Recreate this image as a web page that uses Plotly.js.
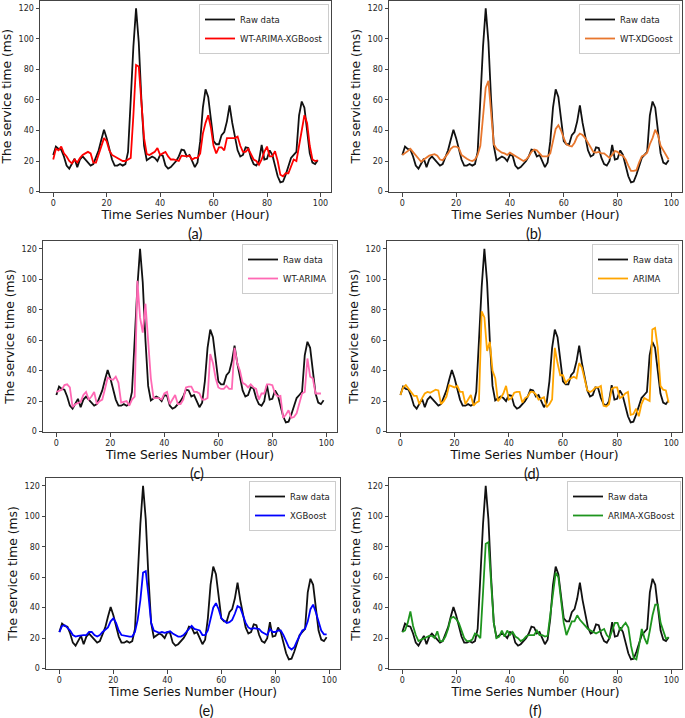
<!DOCTYPE html>
<html>
<head>
<meta charset="utf-8">
<script src="https://cdn.plot.ly/plotly-3.0.1.min.js"></script>
<style>html,body{margin:0;padding:0;background:#fff}#chart{width:685px;height:718px}</style>
</head>
<body>
<div id="chart"></div>
<script>
// Raw service time (ms), hours 0..99
const rawData = [24,29.5,28,27.5,23,17,15,18,21.5,16,
21,23,21,19,17,18,22,27,34,40.5,
35,27,21,17,17,18,17,18,26,60,
95,120,98,60,30,20.5,22,23,22,20,
24,23.5,17,15,16,18,20,23,27.5,27,
23,24,20,16,19,33,55,67,62,48,
33,31,31,37,39,46,56.5,45,35,27,
23,24,29,28.5,22,18,17,20,30.5,21,
21.5,27,24,17,10,6,6.5,11,17,22,
24,26,50,59,55,40,25,19,18,20.5];

const wtArimaXgb = [21,28,27,29.5,25,23,20,18.5,21,19,
22,24,25,26,25,19,19,24,29,35,
33,27,24,23,22,21,20,20,21,22,
50,83,82,60,35,24.5,24,25,26,28.5,
24,25,26,23,21,21,20.5,20,23.5,23,
23,23.5,21,22,22,25,38,45,50,42,
30,25,29,29,27,35,35,35,35,36,
30,26,26,28,24,21,20,17.5,21,26,
29.5,23,23,26.5,20,11,10,12,12,17,
21,20,30,40,50,45,30,21,20,20.5];

const wtXgb = [24,25,26.5,28,26,24,21.5,19.5,21,22.5,
23.5,24,24.5,23.5,21,20.5,22.5,25,28,29.5,
29.5,28.5,24,22.5,21.5,20.5,20,21,24,30,
48,68,72.5,50,31,28,26.5,25.5,25,24,
25.5,24.5,23,22,21.5,20,21,23,26,27.5,
27,25,23,23,23,25,32,41,43.5,40,
35,31,30,29.5,32,36,38,37,35,32,
29,26,25.5,26,25,25,23.5,22,24,26.5,
26,24,23.5,21,17,13.5,13.5,14,19,23,
24,25.5,31,35,40.5,37,30,27,24,21];

const wtArima = [26,27,27.5,30.5,31,29,16,18,19,19.5,
24,26,21,23,26,18,20,21,28,35.5,
34.5,34,36,32,19,19.5,20,17,21,23,
99,75,65,84,60,35,22,22,22,21,
25,26,18,21,24,18,18,21,29,29.5,
29.5,26,26,25,21,21,22,51,45,35,
29,28,28,30,28,28,55,45,40,32,
31,29,31,29,28,21,25,25,31,31,
30.5,25,23,23.5,9,11,14,9,9.5,12,
18,25,26,48,36,35,25,25,25];

const arima = [24,29,30.5,28,26,23.5,23.5,18,22,25,
26,25.5,26.5,27.5,27,18,20,23,30.5,30,
29,30,26,26,18,21,24,17,19,20,
79,75,53,59,40,35,20,22,25,30,
21,22,25.5,26,26,19,22,23,26,26,
24.5,21,22,22.5,16,18,21,55,45,37,
37,32,34,35,36,35,45,42,35,27,
26,27,29,29,30,17,16.5,18,28,29,
29,22,23,25,26,11,11.5,15,10,18,
22,21,20,67,68,55,30,27.5,27,19];

const xgboost = [24,28,28.5,27,25,22,21,21.5,22,22,
22,24,24,22,21,22,24,25.5,27,31,
33,30,25,22,21.5,21.5,21,21,24,32,
45,63,64,48,30,25,24,23.5,24,23.5,
24,24.5,23,22,21,21,22,24,26,28,
26,25.5,25,22,22,25,33,40,43,39,
33,31.5,30,30.5,32,36,41,40,35,30,
27,26,26.5,26,26,24,23,22,26,24,
24,25,25,22,18,14,12.5,14,18,22,
25,26,31,39,42,37,30,25,22.5,22.5];

const arimaXgb = [24,25,30,37.5,28,22,18,19,20,21,
21.5,21.5,20,24.5,18,18,21,26,33,34,
32.5,30,25,20,18,18,19,23,22,20,
50,82,83,55,30,20,21,25,21,25,
22,24,21,20,18,19,21,22,22,22,
25,22,22,21,21.5,35,52,63,60,45,
30,22,27,31,31,35,32,30,28,26,
25,24,23,24,25,26,22,20,25,30,
30,25,28,30,27,15,7,6,15,26,
20,16,25,35,42,42,30,25,19.5,20.5];

const seriesNames = ['WT-ARIMA-XGBoost','WT-XDGoost','WT-ARIMA','ARIMA','XGBoost','ARIMA-XGBoost'];
const panelLabels = ['(a)','(b)','(c)','(d)','(e)','(f)'];
const xTicks = [0,20,40,60,80,100];
const yTicks = [0,20,40,60,80,100,120];
const rawName = 'Raw data';
const xTitle = 'Time Series Number (Hour)';
const yTitle = 'The service time (ms)';

const models = [wtArimaXgb, wtXgb, wtArima, arima, xgboost, arimaXgb];
const colors = ['#ff0000','#e8772e','#ff69b4','#ffa500','#0000ff','#1e951e'];

// panel geometry in pixels [left, right, top, bottom]
const W = 685, H = 718;
const boxes = [
  [40, 331, 0.5, 192],
  [389, 682, 0.5, 192],
  [43, 337, 241, 432],
  [387, 682, 241, 432],
  [46, 340, 478, 669],
  [389, 682, 478, 669]
];
const legendBox = [
  [329, 4], [680, 4], [333, 244], [679, 244], [336, 481], [681, 481]
];
const labelPos = [[196, 233], [534, 233], [197, 473], [532, 473], [206, 710], [535, 710]];

const tickFont = {family: 'DejaVu Sans', size: 8, color: '#262626'};
const titleFont = {family: 'DejaVu Sans', size: 12.3, color: '#111'};

const traces = [];
const layout = {
  width: W, height: H,
  margin: {l: 0, r: 0, t: 0, b: 0},
  paper_bgcolor: '#fff', plot_bgcolor: '#fff',
  showlegend: true,
  annotations: []
};

for (let i = 0; i < 6; i++) {
  const sfx = i === 0 ? '' : String(i + 1);
  const lg = 'legend' + sfx;
  const b = boxes[i];
  traces.push({
    y: rawData, type: 'scatter', mode: 'lines', name: rawName,
    xaxis: 'x' + sfx, yaxis: 'y' + sfx, legend: lg,
    line: {color: '#111', width: 1.8}
  });
  traces.push({
    y: models[i], type: 'scatter', mode: 'lines', name: seriesNames[i],
    xaxis: 'x' + sfx, yaxis: 'y' + sfx, legend: lg,
    line: {color: colors[i], width: 1.8}
  });
  const common = {
    showgrid: false, zeroline: false, showline: true, mirror: true,
    linecolor: '#444', linewidth: 1, ticks: 'outside', ticklen: 3.5,
    tickcolor: '#444', tickwidth: 1, tickfont: tickFont
  };
  layout['xaxis' + sfx] = Object.assign({}, common, {
    domain: [b[0] / W, b[1] / W], anchor: 'y' + sfx,
    range: [-4.95, 103.95], tickmode: 'array', tickvals: xTicks,
    title: {text: xTitle, font: titleFont, standoff: 3}
  });
  layout['yaxis' + sfx] = Object.assign({}, common, {
    domain: [1 - b[3] / H, 1 - b[2] / H], anchor: 'x' + sfx,
    range: [-0.3, 125.2], tickmode: 'array', tickvals: yTicks,
    title: {text: yTitle, font: titleFont, standoff: 4}
  });
  layout[lg] = {
    x: legendBox[i][0] / W, y: 1 - legendBox[i][1] / H,
    xanchor: 'right', yanchor: 'top',
    bgcolor: 'rgba(255,255,255,0.85)', bordercolor: '#cccccc', borderwidth: 1,
    font: {family: 'DejaVu Sans', size: 8.5, color: '#222'},
    itemwidth: 30, tracegroupgap: 0
  };
  layout.annotations.push({
    text: panelLabels[i], xref: 'paper', yref: 'paper',
    x: labelPos[i][0] / W, y: 1 - labelPos[i][1] / H,
    xanchor: 'center', yanchor: 'middle', showarrow: false,
    font: {family: 'Lato', size: 14.5, color: '#111'}
  });
}

Plotly.newPlot('chart', traces, layout, {staticPlot: true, displayModeBar: false});
</script>
</body>
</html>
